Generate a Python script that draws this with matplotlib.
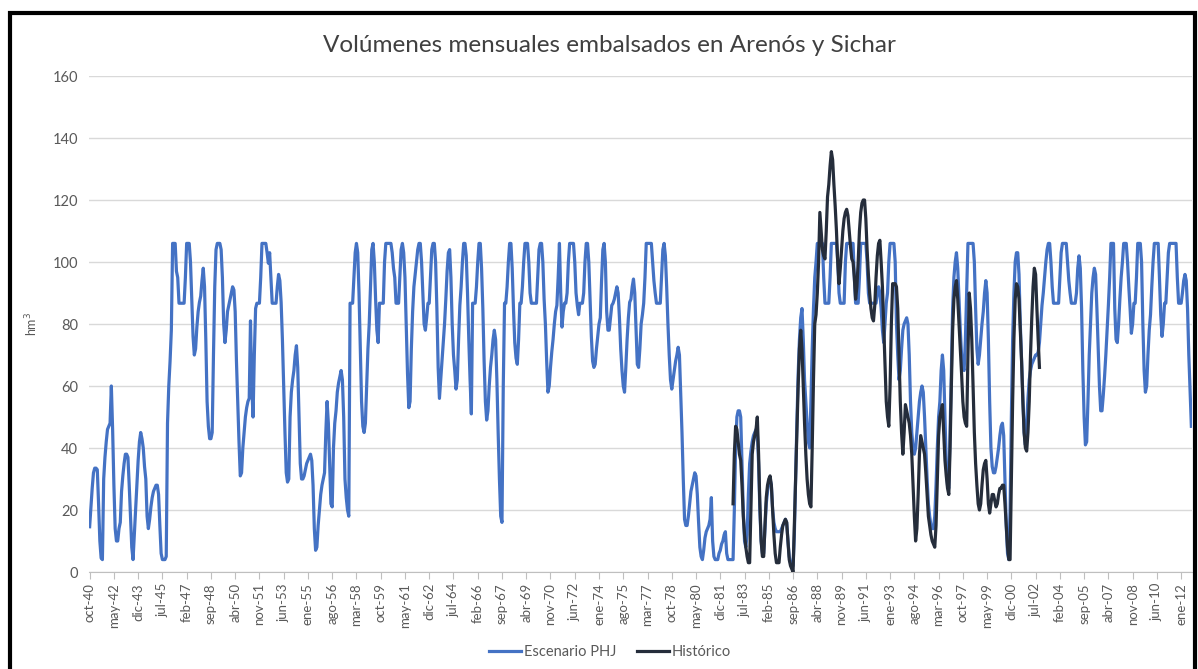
import matplotlib
matplotlib.use("Agg")
import matplotlib.pyplot as plt
from matplotlib.patches import Rectangle

# volumen embalsado mensual (hm3), una fila por año hidrológico (oct-sep), oct-1940 a sep-2012
escenario_phj = [
    [14.6, 21, 27, 32, 33.5, 33.5, 33, 22, 10, 4.5, 4, 30],          # 1940-41
    [37, 42, 46, 47, 48, 60, 46, 28, 14, 10, 10, 14],
    [16, 26, 31, 35, 38, 38, 37, 28, 18, 8, 4, 12],
    [20, 28, 36, 42, 45, 43, 40, 34, 30, 18, 14, 17],
    [21, 24, 26, 27, 28, 28, 25, 15, 6, 4, 4, 4],
    [5, 48, 60, 68, 78, 106, 106, 106, 97, 95, 86.7, 86.7],          # 1945-46
    [86.7, 86.7, 86.7, 95, 106, 106, 106, 100, 88, 76, 70, 72],
    [79, 84, 87, 89, 94, 98, 92, 75, 55, 47, 43, 43],
    [45, 70, 92, 104, 106, 106, 106, 104, 95, 80, 74, 78],
    [84, 86, 88, 90, 92, 91, 84, 68, 55, 42, 31, 32],
    [40, 45, 50, 53, 55, 56, 81, 60, 50, 70, 85, 86.7],              # 1950-51
    [86.7, 86.7, 95, 106, 106, 106, 106, 103, 99.6, 103, 95, 86.7],
    [86.7, 86.7, 86.7, 92, 96, 94, 87, 75, 60, 45, 32, 29],
    [30, 50, 58, 62, 65, 70, 73, 66, 50, 35, 30, 30],
    [31, 33, 35, 36, 37, 38, 36, 28, 14, 7, 8, 15],
    [20, 25, 28, 30, 32, 45, 55, 48, 35, 22, 21, 40],                # 1955-56
    [48, 52, 58, 61, 63, 65, 62, 50, 30, 24, 20, 18],
    [86.7, 86.7, 86.7, 95, 103, 106, 103, 90, 72, 55, 47, 45],
    [48, 60, 72, 80, 92, 104, 106, 100, 88, 78, 74, 86.7],
    [86.7, 86.7, 86.7, 100, 106, 106, 106, 106, 106, 103, 98, 95],
    [86.7, 86.7, 86.7, 95, 104, 106, 103, 95, 80, 64, 53, 55],       # 1960-61
    [72, 84, 92, 96, 100, 104, 106, 106, 100, 90, 80, 78],
    [82, 86.7, 86.7, 95, 104, 106, 106, 100, 85, 66, 56, 62],
    [68, 74, 80, 88, 97, 103, 104, 95, 80, 70, 65, 59],
    [62, 75, 86, 92, 100, 106, 106, 102, 90, 75, 62, 51],
    [86.7, 86.7, 86.7, 92, 100, 106, 106, 98, 85, 68, 55, 49],       # 1965-66
    [52, 60, 66, 70, 75, 78, 75, 62, 45, 30, 18, 16],
    [60, 86.7, 86.7, 92, 100, 106, 106, 98, 85, 74, 69, 67],
    [75, 86.7, 86.7, 92, 100, 106, 106, 106, 100, 90, 86.7, 86.7],
    [86.7, 86.7, 86.7, 95, 104, 106, 106, 100, 88, 80, 68, 58],
    [60, 66, 71, 75, 80, 84, 86, 95, 106, 90, 79, 84],               # 1970-71
    [86.7, 86.7, 90, 100, 106, 106, 106, 106, 100, 90, 86, 83],
    [86.7, 86.7, 86.7, 90, 100, 106, 106, 100, 88, 76, 68, 66],
    [67, 72, 76, 80, 82, 94, 104, 106, 100, 84, 78, 78],
    [82, 86, 86.7, 88, 90, 92, 90, 82, 72, 65, 60, 58],
    [66, 75, 82, 87, 88, 92, 94.5, 90, 78, 67, 66, 72],              # 1975-76
    [80, 83, 86.7, 95, 106, 106, 106, 106, 106, 100, 94, 90],
    [86.7, 86.7, 86.7, 86.7, 95, 104, 106, 102, 92, 80, 70, 62],
    [59, 62, 65, 68, 70, 72.5, 70, 58, 45, 30, 17, 15],
    [15, 18, 22, 26, 28, 30, 32, 31, 25, 16, 8, 5],
    [4, 7, 11, 13, 14, 15, 17, 24, 10, 5, 4, 4],                     # 1980-81
    [4, 6, 7, 9, 10, 12, 13, 6, 4, 4, 4, 4],
    [4, 20, 40, 50, 52, 52, 50, 35, 20, 10, 8, 12],
    [25, 35, 39, 42, 44, 45, 46, 45, 35, 20, 10, 6],
    [6, 14, 22, 26, 29, 30, 28, 20, 16, 14, 13, 13],
    [13, 13, 14, 15, 16, 17, 16, 10, 5, 3, 2, 2],                    # 1985-86
    [12, 30, 48, 64, 75, 82, 85, 75, 62, 55, 48, 42],
    [40, 55, 72, 85, 95, 100, 106, 106, 106, 106, 106, 95],
    [86.7, 86.7, 86.7, 86.7, 95, 106, 106, 106, 106, 106, 100, 90],
    [86.7, 86.7, 86.7, 86.7, 100, 106, 106, 106, 106, 106, 106, 95],
    [86.7, 86.7, 86.7, 95, 106, 106, 106, 106, 106, 100, 90, 86.7],  # 1990-91
    [86.7, 86.7, 86.7, 86.7, 86.7, 90, 92, 90, 85, 78, 74, 80],
    [86.7, 90, 100, 106, 106, 106, 106, 100, 80, 70, 62, 65],
    [72, 78, 80, 81, 82, 80, 70, 55, 45, 40, 38, 40],
    [45, 50, 55, 58, 60, 58, 50, 40, 30, 22, 18, 15],
    [14, 14, 18, 28, 40, 50, 55, 65, 70, 65, 50, 35],                # 1995-96
    [28, 27, 45, 65, 85, 95, 100, 103, 98, 88, 78, 70],
    [66, 65, 75, 90, 106, 106, 106, 106, 106, 100, 85, 72],
    [67, 70, 75, 80, 84, 90, 94, 90, 75, 55, 40, 34],
    [32, 32, 34, 37, 40, 44, 47, 48, 44, 30, 15, 6],
    [4, 20, 50, 75, 90, 100, 103, 103, 96, 80, 68, 55],              # 2000-01
    [45, 41, 48, 56, 62, 65, 67, 68, 69, 70, 70, 71],
    [74, 80, 86, 90, 95, 100, 104, 106, 106, 100, 92, 86.7],
    [86.7, 86.7, 86.7, 86.7, 95, 103, 106, 106, 106, 106, 100, 94],
    [90, 86.7, 86.7, 86.7, 86.7, 90, 98, 102, 98, 85, 65, 50],
    [41, 42, 55, 70, 80, 90, 95, 98, 96, 85, 72, 60],                # 2005-06
    [52, 52, 57, 63, 70, 78, 86, 95, 106, 106, 106, 85],
    [75, 74, 80, 88, 95, 100, 106, 106, 106, 100, 92, 85],
    [77, 80, 86.7, 86.7, 95, 106, 106, 106, 100, 80, 65, 58],
    [60, 70, 78, 83, 92, 100, 106, 106, 106, 106, 95, 83],
    [76, 80, 86.7, 86.7, 95, 103, 106, 106, 106, 106, 106, 106],     # 2010-11
    [95, 86.7, 86.7, 86.7, 90, 94, 96, 94, 85, 70, 58, 47],
]

# serie histórica, oct-1982 a oct-2002
historico = [
    [22, 38, 47, 46, 42, 38, 36, 28, 18, 12, 8, 5],                  # 1982-83
    [3, 3, 20, 38, 42, 44, 46, 50, 38, 22, 10, 5],
    [5, 15, 24, 28, 30, 31, 28, 20, 12, 6, 3, 3],
    [3, 8, 12, 15, 16, 17, 16, 10, 4, 2, 1, 0],
    [15, 30, 45, 60, 72, 78, 72, 60, 48, 38, 30, 25],
    [22, 21, 40, 62, 80, 83, 90, 100, 116, 110, 104, 102],           # 1987-88
    [101, 110, 121, 125, 131, 135.6, 133, 125, 118, 110, 100, 93],
    [98, 104, 110, 114, 116, 117, 115, 110, 105, 101, 100, 95],
    [88, 92, 100, 110, 116, 119, 120, 120, 114, 104, 96, 90],
    [85, 82, 81, 86, 95, 102, 106, 107, 100, 92, 80, 68],
    [55, 50, 47, 60, 80, 93, 93, 93, 92, 85, 70, 55],                # 1992-93
    [45, 38, 45, 54, 52, 50, 48, 44, 38, 28, 18, 10],
    [14, 25, 38, 44, 42, 40, 38, 32, 25, 18, 15, 12],
    [10, 9, 8, 15, 30, 44, 50, 52, 54, 45, 36, 31],
    [27, 25, 40, 60, 78, 88, 92, 94, 88, 80, 72, 64],
    [55, 50, 48, 47, 70, 90, 85, 75, 60, 45, 35, 28],                # 1997-98
    [22, 20, 22, 28, 33, 35, 36, 30, 22, 19, 22, 25],
    [25, 23, 21, 22, 25, 27, 27, 28, 28, 22, 15, 8],
    [4, 4, 30, 55, 75, 88, 93, 92, 88, 78, 68, 55],
    [45, 40, 39, 45, 55, 70, 82, 92, 98, 96, 85, 75],
    [66],                                                           # oct-2002
]
inicio_historico = 504  # oct-82 = mes 504 contando desde oct-40

etiquetas_x = ["oct-40", "may-42", "dic-43", "jul-45", "feb-47", "sep-48", "abr-50",
               "nov-51", "jun-53", "ene-55", "ago-56", "mar-58", "oct-59", "may-61",
               "dic-62", "jul-64", "feb-66", "sep-67", "abr-69", "nov-70", "jun-72",
               "ene-74", "ago-75", "mar-77", "oct-78", "may-80", "dic-81", "jul-83",
               "feb-85", "sep-86", "abr-88", "nov-89", "jun-91", "ene-93", "ago-94",
               "mar-96", "oct-97", "may-99", "dic-00", "jul-02", "feb-04", "sep-05",
               "abr-07", "nov-08", "jun-10", "ene-12"]
paso_etiquetas = 19

AZUL = "#4472C4"
OSCURO = "#252D3B"
GRIS = "#595959"

plt.rcParams["font.family"] = ["Lato", "DejaVu Sans"]


def aplanar(filas):
    return [v for fila in filas for v in fila]


def main():
    phj = aplanar(escenario_phj)
    hist = aplanar(historico)
    x_phj = list(range(len(phj)))
    x_hist = list(range(inicio_historico, inicio_historico + len(hist)))

    W, H = 1198, 669
    fig = plt.figure(figsize=(W / 100, H / 100), dpi=100)
    ax = fig.add_axes([89 / W, 1 - 572 / H, (1192 - 89) / W, (572 - 76) / H])

    ax.plot(x_phj, phj, color=AZUL, lw=2.3, label="Escenario PHJ", zorder=3)
    ax.plot(x_hist, hist, color=OSCURO, lw=2.3, label="Histórico", zorder=4)

    ax.set_xlim(-0.5, len(phj) - 0.5)
    ax.set_ylim(0, 160)
    ax.set_yticks(range(0, 161, 20))
    ax.set_xticks(range(0, len(phj), paso_etiquetas))
    ax.set_xticklabels(etiquetas_x, rotation=90)

    ax.yaxis.grid(True, color="#d9d9d9", lw=1)
    ax.set_axisbelow(True)
    for lado in ["top", "left", "right"]:
        ax.spines[lado].set_visible(False)
    ax.spines["bottom"].set_color("#bfbfbf")
    ax.spines["bottom"].set_zorder(1)
    ax.tick_params(axis="y", length=0, labelsize=10.5, labelcolor=GRIS, pad=8)
    ax.tick_params(axis="x", length=5, color="#bfbfbf", labelsize=9.5, labelcolor=GRIS, pad=3)

    ax.set_ylabel("hm$^3$", fontsize=9, color=GRIS, labelpad=9)
    fig.text(609 / W, 1 - 45 / H, "Volúmenes mensuales embalsados en Arenós y Sichar",
             ha="center", va="center", fontsize=17.5, color="#404040")

    fig.legend(loc="center", bbox_to_anchor=(610 / W, 1 - 652 / H), ncol=2, frameon=False,
               fontsize=10.5, handlelength=2.2, handletextpad=0.2, columnspacing=1.4,
               labelcolor=GRIS)

    # marco negro de la imagen
    fig.patches.append(Rectangle((10 / W, -0.05), 1185 / W, 1.05 - 13 / H,
                                 transform=fig.transFigure, fill=False,
                                 edgecolor="black", lw=3))

    fig.savefig("out.png", dpi=100)


if __name__ == "__main__":
    main()
